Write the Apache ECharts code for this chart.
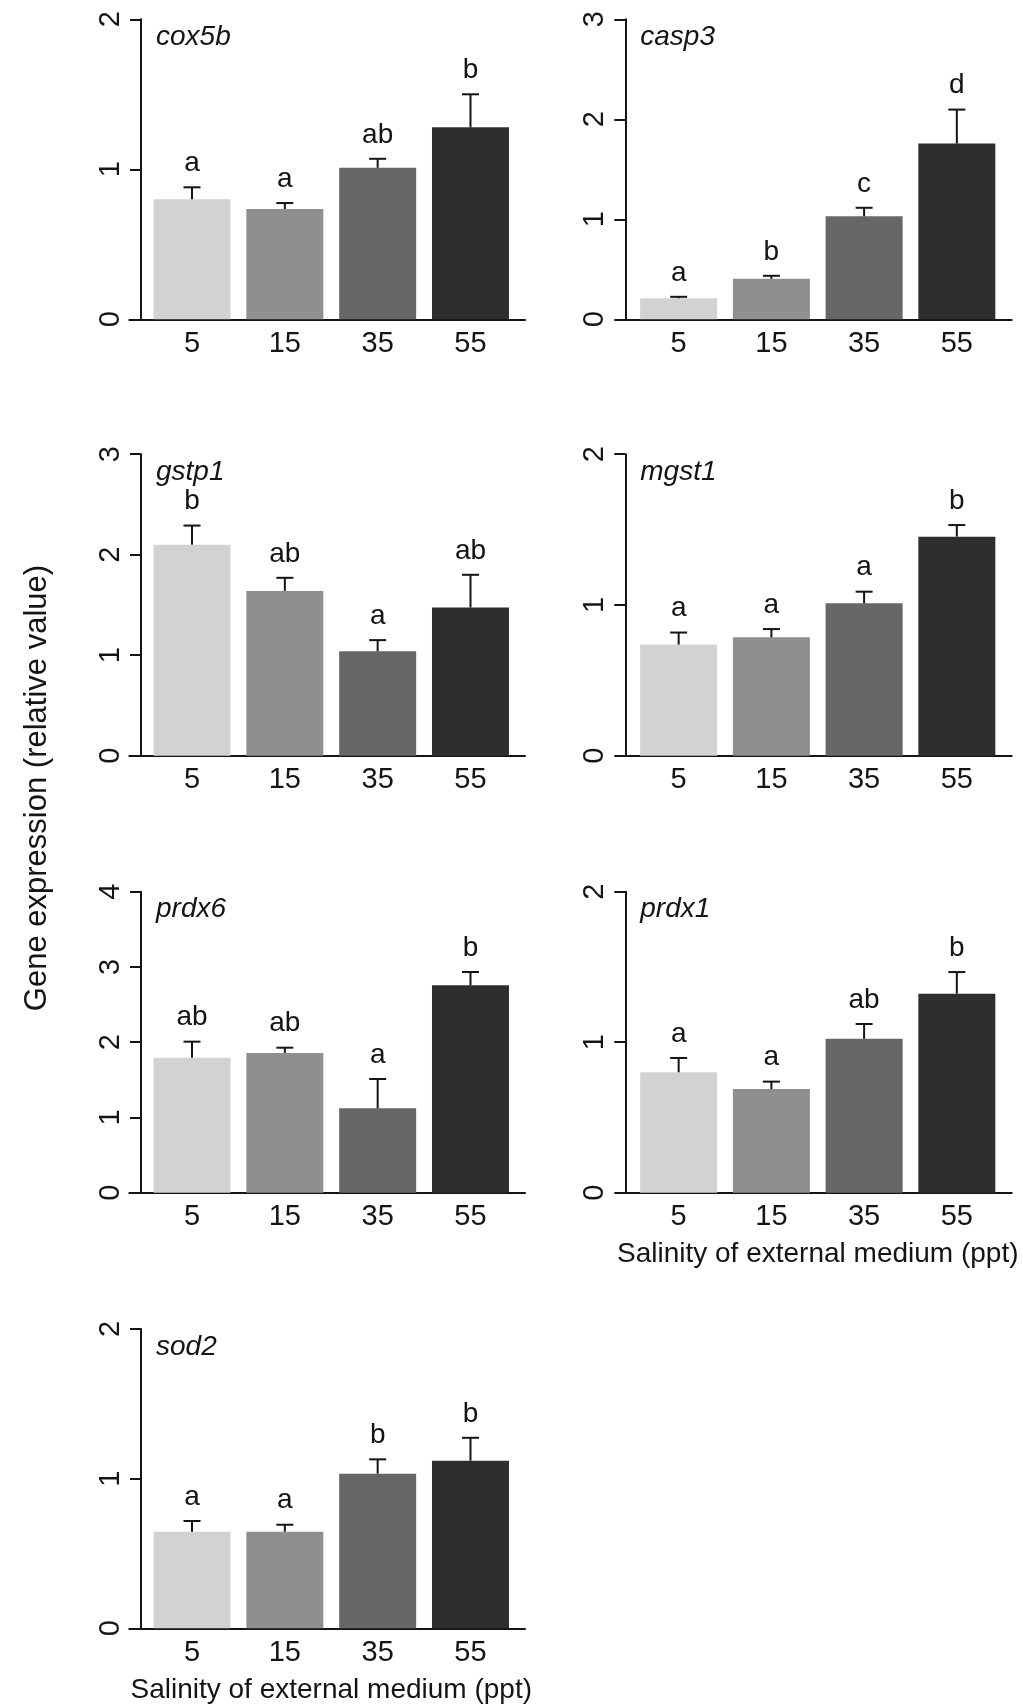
<!DOCTYPE html>
<html>
<head>
<meta charset="utf-8">
<script src="https://cdn.jsdelivr.net/npm/echarts@6/dist/echarts.min.js"></script>
<style>
html,body{margin:0;padding:0;background:#fff;}
#chart{width:1023px;height:1708px;}
</style>
</head>
<body>
<div id="chart"></div>
<script>
// ---------- DATA ----------
const categories = ['5', '15', '35', '55'];
const yAxisTitle = 'Gene expression (relative value)';
const xAxisTitle = 'Salinity of external medium (ppt)';

const cox5bMean = [0.80, 0.735, 1.01, 1.28];
const cox5bErr = [0.08, 0.04, 0.06, 0.22];
const cox5bLetters = ['a', 'a', 'ab', 'b'];

const casp3Mean = [0.21, 0.405, 1.03, 1.757];
const casp3Err = [0.015, 0.03, 0.085, 0.34];
const casp3Letters = ['a', 'b', 'c', 'd'];

const gstp1Mean = [2.10, 1.64, 1.04, 1.475];
const gstp1Err = [0.19, 0.13, 0.11, 0.325];
const gstp1Letters = ['b', 'ab', 'a', 'ab'];

const mgst1Mean = [0.737, 0.785, 1.011, 1.453];
const mgst1Err = [0.08, 0.055, 0.077, 0.077];
const mgst1Letters = ['a', 'a', 'a', 'b'];

const prdx6Mean = [1.794, 1.857, 1.121, 2.756];
const prdx6Err = [0.213, 0.07, 0.39, 0.177];
const prdx6Letters = ['ab', 'ab', 'a', 'b'];

const prdx1Mean = [0.80, 0.689, 1.023, 1.322];
const prdx1Err = [0.095, 0.049, 0.098, 0.144];
const prdx1Letters = ['a', 'a', 'ab', 'b'];

const sod2Mean = [0.645, 0.645, 1.033, 1.12];
const sod2Err = [0.072, 0.047, 0.096, 0.153];
const sod2Letters = ['a', 'a', 'b', 'b'];

const panels = [
  { gene: 'cox5b', mean: cox5bMean, err: cox5bErr, letters: cox5bLetters, yMax: 2 },
  { gene: 'casp3', mean: casp3Mean, err: casp3Err, letters: casp3Letters, yMax: 3 },
  { gene: 'gstp1', mean: gstp1Mean, err: gstp1Err, letters: gstp1Letters, yMax: 3 },
  { gene: 'mgst1', mean: mgst1Mean, err: mgst1Err, letters: mgst1Letters, yMax: 2 },
  { gene: 'prdx6', mean: prdx6Mean, err: prdx6Err, letters: prdx6Letters, yMax: 4 },
  { gene: 'prdx1', mean: prdx1Mean, err: prdx1Err, letters: prdx1Letters, yMax: 2, xTitle: true },
  { gene: 'sod2', mean: sod2Mean, err: sod2Err, letters: sod2Letters, yMax: 2, xTitle: true }
];

// ---------- STYLE / LAYOUT ----------
const FONT = '"Liberation Sans", Arial, Helvetica, sans-serif';
const INK = '#141414';
const barColors = ['#d2d2d2', '#8f8f8f', '#676767', '#2e2e2e'];
const cols = [
  { axisX: 141, bandL: 145.6, bandR: 516.9, lineL: 129.3, lineR: 525 },
  { axisX: 625.3, bandL: 632.3, bandR: 1003.2, lineL: 616, lineR: 1011.7 }
];
const rows = [
  { top: 19.3, zero: 319.3 },
  { top: 454.2, zero: 755.7 },
  { top: 891.7, zero: 1192.7 },
  { top: 1329, zero: 1628.3 }
];

const grid = [], xAxis = [], yAxis = [], series = [], title = [];

panels.forEach((p, i) => {
  const c = cols[i % 2], r = rows[Math.floor(i / 2)];
  const h = r.zero - r.top;
  grid.push({ left: c.bandL, width: c.bandR - c.bandL, top: r.top, height: h });
  grid.push({ left: c.lineL, width: c.lineR - c.lineL, top: r.top, height: h });

  xAxis.push({
    type: 'category', gridIndex: 2 * i, data: categories,
    axisLine: { show: false }, axisTick: { show: false },
    axisLabel: { fontSize: 29, color: INK, fontFamily: FONT, margin: 10 },
    name: p.xTitle ? xAxisTitle : '', nameLocation: 'middle', nameGap: 48,
    nameTextStyle: { fontSize: 28, color: INK, fontFamily: FONT }
  });
  xAxis.push({
    type: 'value', gridIndex: 2 * i + 1, min: 0, max: 1,
    axisLine: { show: true, lineStyle: { color: INK, width: 2 } },
    axisTick: { show: false }, axisLabel: { show: false }, splitLine: { show: false }
  });
  yAxis.push({
    type: 'value', gridIndex: 2 * i, min: 0, max: p.yMax, interval: 1,
    offset: c.bandL - c.axisX,
    axisLine: { show: true, lineStyle: { color: INK, width: 2 } },
    axisTick: { show: true, length: 11, lineStyle: { color: INK, width: 2 } },
    axisLabel: { rotate: 90, fontSize: 29, color: INK, fontFamily: FONT, margin: 16 },
    splitLine: { show: false }
  });
  yAxis.push({ type: 'value', gridIndex: 2 * i + 1, min: 0, max: 1, show: false });

  series.push({
    type: 'bar', xAxisIndex: 2 * i, yAxisIndex: 2 * i, barWidth: 77, silent: true,
    data: p.mean.map((v, j) => ({ value: v, itemStyle: { color: barColors[j] } }))
  });
  const letters = p.letters;
  series.push({
    type: 'custom', xAxisIndex: 2 * i, yAxisIndex: 2 * i, silent: true, z: 5,
    data: p.mean.map((v, j) => [j, v, p.err[j]]),
    renderItem: function (params, api) {
      const x = api.value(0), m = api.value(1), e = api.value(2);
      const p0 = api.coord([x, m]);
      const p1 = api.coord([x, m + e]);
      const half = 8.5;
      return {
        type: 'group',
        children: [
          { type: 'line', shape: { x1: p0[0], y1: p0[1], x2: p1[0], y2: p1[1] }, style: { stroke: INK, lineWidth: 2 } },
          { type: 'line', shape: { x1: p1[0] - half, y1: p1[1], x2: p1[0] + half, y2: p1[1] }, style: { stroke: INK, lineWidth: 2 } },
          { type: 'text', style: { text: letters[params.dataIndex], x: p1[0], y: p1[1] - 10, align: 'center', verticalAlign: 'bottom', fontSize: 28, fontFamily: FONT, fill: INK } }
        ]
      };
    }
  });

  title.push({
    text: p.gene, left: c.axisX + 15, top: r.top + 4, padding: 0,
    textStyle: { fontStyle: 'italic', fontWeight: 'normal', fontSize: 28, color: INK, fontFamily: FONT }
  });
});

const chart = echarts.init(document.getElementById('chart'), null, { renderer: 'canvas' });
chart.setOption({
  animation: false,
  backgroundColor: '#ffffff',
  title: title,
  grid: grid,
  xAxis: xAxis,
  yAxis: yAxis,
  series: series,
  graphic: [{
    type: 'text', x: 37, y: 788, rotation: Math.PI / 2,
    style: { text: yAxisTitle, align: 'center', verticalAlign: 'middle', fontSize: 31, fontFamily: FONT, fill: INK }
  }]
});
</script>
</body>
</html>
